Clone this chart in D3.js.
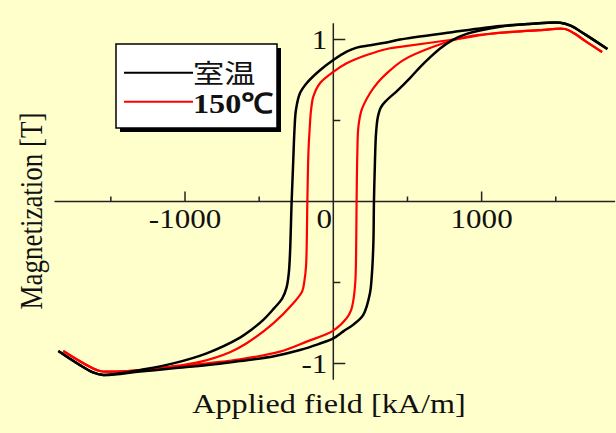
<!DOCTYPE html>
<html>
<head>
<meta charset="utf-8">
<script src="https://cdn.jsdelivr.net/npm/d3@7"></script>
<style>
html,body{margin:0;padding:0;background:#FFFFCC;}
svg{display:block;}
</style>
</head>
<body>
<svg id="chart" width="616" height="433"></svg>
<script>
// ---- data (H in kA/m, M in T) ----
const seriesNames = ["室温", "150℃"];
const seriesColors = ["#000000", "#FF0000"];

const roomDescH = [1848,1700,1600,1530,1300,1124,800,450,382,250,158,90,0,-90,-180,-225,-252,-262,-270,-281,-292,-300,-315,-345,-400,-472,-550,-629,-854,-1079,-1303,-1450,-1551,-1620,-1854];
const roomDescM = [0.941,1.03,1.085,1.104,1.095,1.083,1.045,1.0,0.986,0.965,0.950,0.925,0.873,0.81,0.73,0.668,0.565,0.44,0.256,0,-0.32,-0.44,-0.53,-0.60,-0.66,-0.731,-0.79,-0.84,-0.937,-0.999,-1.04,-1.062,-1.071,-1.055,-0.923];
const roomAscH = [-1854,-1620,-1551,-1303,-1079,-800,-629,-400,-225,-100,0,70,135,202,247,259,270,274,281,288,300,320,360,427,520,585,652,720,800,899,1124,1350,1530,1600,1700,1848];
const roomAscM = [-0.923,-1.055,-1.071,-1.05,-1.03,-1.005,-0.985,-0.955,-0.917,-0.88,-0.845,-0.80,-0.76,-0.70,-0.567,-0.464,-0.26,0,0.256,0.42,0.52,0.58,0.625,0.68,0.765,0.83,0.89,0.945,0.995,1.035,1.079,1.098,1.104,1.085,1.03,0.941];

const hotDescH = [1812,1700,1620,1562,1400,1124,787,450,382,225,90,0,-90,-135,-150,-160,-168,-175,-184,-195,-210,-270,-405,-584,-697,-900,-1100,-1300,-1500,-1580,-1821];
const hotDescM = [0.923,0.99,1.04,1.065,1.058,1.042,0.997,0.955,0.946,0.904,0.853,0.80,0.73,0.647,0.565,0.44,0.30,0,-0.40,-0.49,-0.555,-0.628,-0.752,-0.875,-0.930,-0.99,-1.02,-1.04,-1.05,-1.045,-0.923];
const hotAscH = [-1821,-1580,-1500,-1300,-1079,-629,-360,-180,0,90,120,135,148,153,157,162,169,191,247,300,360,472,674,899,1236,1400,1562,1620,1700,1812];
const hotAscM = [-0.923,-1.045,-1.05,-1.04,-1.02,-0.974,-0.927,-0.865,-0.797,-0.72,-0.67,-0.61,-0.50,-0.361,0,0.30,0.46,0.565,0.668,0.735,0.791,0.873,0.955,1.017,1.048,1.058,1.065,1.04,0.99,0.923];

const xMajorTicks = [-1000, 0, 1000];
const xTickLabels = ["-1000", "0", "1000"];
const xMinorTicks = [-1500, -500, 500, 1500];
const yMajorTicks = [1, -1];
const yTickLabels = ["1", "-1"];
const yMinorTicks = [0.5, -0.5];

const xTitle = "Applied field [kA/m]";
const yTitle = "Magnetization [T]";

// ---- scales ----
const x = d3.scaleLinear().domain([-1880, 1900]).range([54.5, 615.1]);
const y = d3.scaleLinear().domain([-1.1, 1.1]).range([379.7, 23.3]);

const svg = d3.select("#chart");
svg.append("rect").attr("width", 616).attr("height", 433).attr("fill", "#FFFFCC");

const axisColor = "#222";
const SX = 1.15;
const serif = "'Liberation Serif','Times New Roman',serif";

// x axis line + ticks
svg.append("line").attr("x1", x(-1880)).attr("x2", x(1900)).attr("y1", y(0)).attr("y2", y(0))
  .attr("stroke", axisColor).attr("stroke-width", 1.5);
svg.selectAll(".xmaj").data(xMajorTicks.filter(d => d !== 0)).enter().append("line")
  .attr("x1", d => x(d)).attr("x2", d => x(d)).attr("y1", y(0)).attr("y2", y(0) - 10)
  .attr("stroke", axisColor).attr("stroke-width", 1.5);
svg.selectAll(".xmin").data(xMinorTicks).enter().append("line")
  .attr("x1", d => x(d)).attr("x2", d => x(d)).attr("y1", y(0)).attr("y2", y(0) - 5)
  .attr("stroke", axisColor).attr("stroke-width", 1.5);

// y axis line + ticks
svg.append("line").attr("x1", x(0)).attr("x2", x(0)).attr("y1", y(-1.1)).attr("y2", y(1.1))
  .attr("stroke", axisColor).attr("stroke-width", 1.5);
svg.selectAll(".ymaj").data(yMajorTicks).enter().append("line")
  .attr("x1", x(0)).attr("x2", x(0) + 12).attr("y1", d => y(d)).attr("y2", d => y(d))
  .attr("stroke", axisColor).attr("stroke-width", 1.5);
svg.selectAll(".ymin").data(yMinorTicks).enter().append("line")
  .attr("x1", x(0)).attr("x2", x(0) + 7).attr("y1", d => y(d)).attr("y2", d => y(d))
  .attr("stroke", axisColor).attr("stroke-width", 1.5);

function stretchedText(tx, ty, str, opts) {
  const g = svg.append("g").attr("transform", `translate(${tx},${ty}) scale(${opts.sx || SX},1)` + (opts.rotate ? ` rotate(${opts.rotate})` : ""));
  return g.append("text").attr("x", 0).attr("y", 0).text(str)
    .attr("font-family", opts.family || serif)
    .attr("font-size", opts.size)
    .attr("font-weight", opts.weight || "normal")
    .attr("text-anchor", opts.anchor || "middle")
    .attr("fill", "#111");
}

// x tick labels
xMajorTicks.forEach((v, i) => {
  const tx = v === 0 ? x(0) - 9 : x(v);
  stretchedText(tx, 228, xTickLabels[i], {size: 27});
});
// y tick labels
yMajorTicks.forEach((v, i) => {
  stretchedText(x(0) - 6, y(v) + 9, yTickLabels[i], {size: 27, anchor: "end"});
});

// axis titles
stretchedText(329, 413, xTitle, {size: 28});
stretchedText(42, 211, yTitle, {size: 27, rotate: -90});

// ---- curves ----
const line = d3.line().x(d => x(d[0])).y(d => y(d[1])).curve(d3.curveCatmullRom.alpha(0.5));
const zip = (a, b) => a.map((v, i) => [v, b[i]]);

const branches = [
  {pts: zip(hotDescH, hotDescM), c: seriesColors[1], w: 2.2},
  {pts: zip(hotAscH, hotAscM), c: seriesColors[1], w: 2.2},
  {pts: zip(roomDescH, roomDescM), c: seriesColors[0], w: 2.5},
  {pts: zip(roomAscH, roomAscM), c: seriesColors[0], w: 2.5}
];
branches.forEach(b => {
  svg.append("path").attr("d", line(b.pts)).attr("fill", "none")
    .attr("stroke", b.c).attr("stroke-width", b.w).attr("stroke-linejoin", "round");
});

// ---- legend ----
const lg = {x: 116, y: 44, w: 161, h: 84};
svg.append("rect").attr("x", lg.x + 4).attr("y", lg.y + 4).attr("width", lg.w).attr("height", lg.h).attr("fill", "#000");
svg.append("rect").attr("x", lg.x).attr("y", lg.y).attr("width", lg.w).attr("height", lg.h)
  .attr("fill", "#fff").attr("stroke", "#000").attr("stroke-width", 1.5);
[72.7, 101.7].forEach((ly, i) => {
  svg.append("line").attr("x1", 124).attr("x2", 193).attr("y1", ly).attr("y2", ly)
    .attr("stroke", seriesColors[i]).attr("stroke-width", 2);
});
stretchedText(193, 83, seriesNames[0], {size: 26, anchor: "start", sx: 1.2, family: "'Noto Sans CJK JP',sans-serif"});
stretchedText(193, 113, seriesNames[1], {size: 28, anchor: "start", weight: "bold"});
</script>
</body>
</html>
